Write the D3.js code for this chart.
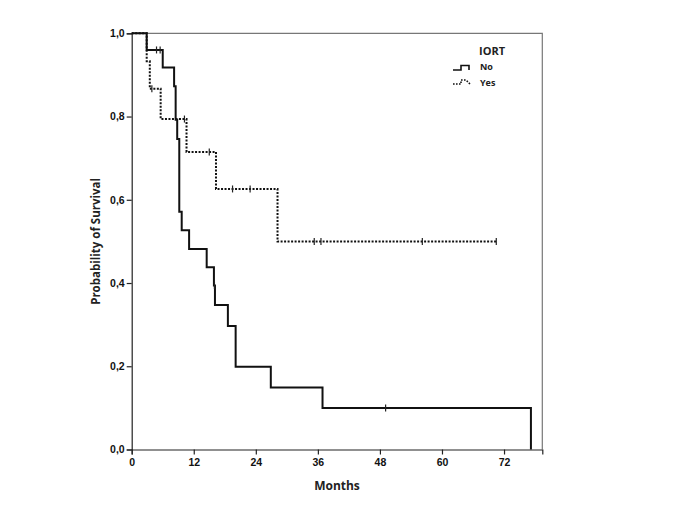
<!DOCTYPE html>
<html><head><meta charset="utf-8">
<script src="https://cdn.jsdelivr.net/npm/d3@7"></script>
<style>body{margin:0;background:#fff}svg{display:block}</style>
</head><body>
<svg id="c" width="685" height="513"></svg>
<script>
// ---- data ----
const groups = ["No", "Yes"];
// No group: step times (months) and survival after each step
const noTimes = [0, 2.9, 6.0, 8.2, 8.5, 8.8, 9.2, 9.67, 11.1, 14.5, 15.9, 16.1, 18.6, 20.1, 26.9, 36.9, 77.2];
const noSurv  = [1, 0.96, 0.918, 0.873, 0.792, 0.746, 0.571, 0.527, 0.482, 0.438, 0.394, 0.347, 0.297, 0.199, 0.149, 0.100, 0];
const noEnd = 77.2;
const noCensT = [4.8, 5.5, 16.0, 49.1];
const noCensS = [0.96, 0.96, 0.394, 0.100];
// Yes group
const yesTimes = [0, 2.9, 3.5, 5.6, 10.6, 16.3, 28.2];
const yesSurv  = [1, 0.933, 0.867, 0.794, 0.715, 0.626, 0.500];
const yesEnd = 70.5;
const yesCensT = [3.9, 10.2, 15.0, 19.5, 22.9, 35.3, 36.6, 56.2, 70.5];
const yesCensS = [0.867, 0.794, 0.715, 0.626, 0.626, 0.5, 0.5, 0.5, 0.5];
const xTicks = [0, 12, 24, 36, 48, 60, 72];
const yTicks = [0, 0.2, 0.4, 0.6, 0.8, 1.0];

// ---- layout ----
const svg = d3.select("#c");
const L = 131.7, R = 542.3, T = 33.3, B = 449.5;
const x = d3.scaleLinear().domain([0, 79.4]).range([L, R]);
const y = d3.scaleLinear().domain([0, 1]).range([B, T]);

// frame (gray)
svg.append("path").attr("d", `M${L},${T}H${R}V${B}`).attr("fill","none").attr("stroke","#777").attr("stroke-width",1.2);

const fmt = d => d3.format(".1f")(d).replace(".", ",");
const xAxis = svg.append("g").attr("transform", `translate(0,${B})`)
  .call(d3.axisBottom(x).tickValues(xTicks).tickSize(5).tickPadding(4).tickFormat(d3.format("d")));
const yAxis = svg.append("g").attr("transform", `translate(${L},0)`)
  .call(d3.axisLeft(y).tickValues(yTicks).tickSize(5).tickPadding(2).tickFormat(fmt));
[xAxis, yAxis].forEach(g => {
  g.select(".domain").attr("stroke","#222").attr("stroke-width",1.2);
  g.selectAll(".tick line").attr("stroke","#222").attr("stroke-width",1.2);
  g.selectAll("text").attr("font-family","Liberation Sans, Arial, sans-serif")
   .attr("font-weight","bold").attr("font-size",10.5).attr("fill","#111");
});

svg.append("text").attr("x", (L+R)/2).attr("y", 490).attr("text-anchor","middle")
  .attr("font-family","Open Sans, sans-serif").attr("font-weight","bold").attr("font-size",12).attr("fill","#222").text("Months");
svg.append("text").attr("transform", `translate(100,${(T+B)/2}) rotate(-90)`).attr("text-anchor","middle")
  .attr("font-family","Open Sans, sans-serif").attr("font-weight","bold").attr("font-size",11.5).attr("fill","#222").text("Probability of Survival");

// ---- curves ----
function stepData(times, surv, end) {
  const pts = times.map((t,i) => [t, surv[i]]);
  if (end > times[times.length-1]) pts.push([end, surv[surv.length-1]]);
  return pts;
}
const line = d3.line().x(d => x(d[0])).y(d => y(d[1])).curve(d3.curveStepAfter);
svg.append("path").datum(stepData(noTimes, noSurv, noEnd)).attr("d", line)
  .attr("fill","none").attr("stroke","#111").attr("stroke-width",2);
svg.append("path").datum(stepData(yesTimes, yesSurv, yesEnd)).attr("d", line)
  .attr("fill","none").attr("stroke","#111").attr("stroke-width",2).attr("stroke-dasharray","2,1.5");

function cens(ts, ss) {
  svg.append("g").selectAll("line").data(ts.map((t,i)=>[t,ss[i]])).join("line")
    .attr("x1", d => x(d[0])).attr("x2", d => x(d[0]))
    .attr("y1", d => y(d[1]) - 3.5).attr("y2", d => y(d[1]) + 3.5)
    .attr("stroke","#222").attr("stroke-width",1.2);
}
cens(noCensT, noCensS);
cens(yesCensT, yesCensS);

// ---- legend ----
const lg = svg.append("g");
lg.append("text").attr("x", 479).attr("y", 54.5).attr("font-family","Open Sans, sans-serif")
  .attr("font-weight","bold").attr("font-size",11).attr("fill","#222").text("IORT");
const lx = 453;
lg.append("path").attr("d", `M${lx},70H${lx+8}V65.5H${lx+16}V70`)
  .attr("fill","none").attr("stroke","#111").attr("stroke-width",1.6);
lg.append("path").attr("d", `M${lx},84H${lx+8}V80H${lx+13}L${lx+17},84`)
  .attr("fill","none").attr("stroke","#111").attr("stroke-width",1.6).attr("stroke-dasharray","1.6,1.4");
lg.selectAll("text.l").data(groups).join("text").attr("class","l")
  .attr("x", 480).attr("y", (d,i) => 70 + i*16)
  .attr("font-family","Open Sans, sans-serif").attr("font-weight","bold").attr("font-size",9).attr("fill","#222").text(d => d);
</script>
</body></html>
